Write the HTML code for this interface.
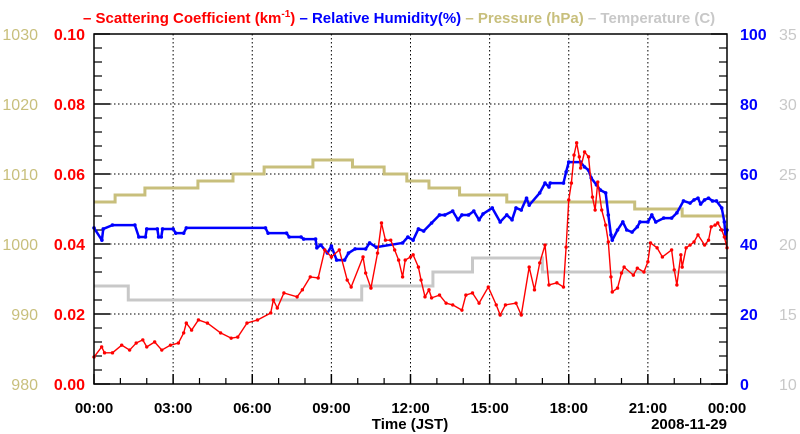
<!DOCTYPE html>
<html><head><meta charset="utf-8"><style>
html,body{margin:0;padding:0;background:#fff;}
svg{display:block;font-family:"Liberation Sans",sans-serif;}
</style></head><body>
<svg id="chart" width="800" height="434" viewBox="0 0 800 434">
<g id="legend">
<text x="83" y="23" font-size="15" font-weight="bold">
<tspan fill="#ff0000">– Scattering Coefficient (km<tspan font-size="10" dy="-6">-1</tspan><tspan dy="6">)</tspan></tspan>
<tspan fill="#0000ff"> – Relative Humidity(%)</tspan>
<tspan fill="#c8bf7c"> – Pressure (hPa)</tspan>
<tspan fill="#c8c8c8"> – Temperature (C)</tspan>
</text>
</g>
<g id="grid"></g>
<g id="axes"></g>
<g id="series"></g>
<rect x="94" y="34" width="633" height="350" fill="none" stroke="#000" stroke-width="1.5"/>
<text x="410" y="429" font-size="15" font-weight="bold" text-anchor="middle">Time (JST)</text>
<text x="727" y="429" font-size="15" font-weight="bold" text-anchor="end">2008-11-29</text>
</svg>
<script>
const scatTime=[0,0.29,0.4,0.7,1.05,1.35,1.6,1.85,2.0,2.3,2.57,2.9,3.2,3.4,3.5,3.7,3.96,4.3,4.8,5.2,5.45,5.8,6.2,6.7,6.8,6.95,7.2,7.7,7.9,8.2,8.5,8.75,9.0,9.3,9.6,9.75,10.2,10.3,10.5,10.75,10.9,11.05,11.25,11.4,11.55,11.7,11.8,12.0,12.1,12.3,12.4,12.55,12.7,12.8,13.1,13.35,13.6,13.95,14.1,14.35,14.6,14.95,15.25,15.4,15.6,16.0,16.2,16.5,16.7,16.9,17.1,17.25,17.55,17.8,17.9,18.0,18.1,18.2,18.3,18.4,18.45,18.6,18.75,18.9,19.0,19.1,19.25,19.4,19.5,19.6,19.65,19.85,20.0,20.1,20.45,20.6,20.85,21.0,21.1,21.35,21.55,21.9,22.0,22.1,22.25,22.3,22.45,22.6,22.75,22.9,23.15,23.3,23.4,23.55,23.65,23.8,23.9,24.0];
const scatValue=[0.0077,0.0106,0.0089,0.0089,0.0111,0.0097,0.0117,0.0126,0.0106,0.0120,0.0097,0.0111,0.0117,0.0146,0.0174,0.0154,0.0183,0.0174,0.0146,0.0131,0.0134,0.0174,0.0183,0.0203,0.0240,0.0217,0.0260,0.0249,0.0269,0.0306,0.0303,0.0383,0.0363,0.0383,0.0297,0.0277,0.0363,0.0317,0.0274,0.0374,0.0460,0.0411,0.0411,0.0383,0.0354,0.0306,0.0354,0.0363,0.0369,0.0334,0.0297,0.0249,0.0269,0.0246,0.0254,0.0231,0.0226,0.0211,0.0254,0.0260,0.0231,0.0277,0.0226,0.0197,0.0226,0.0231,0.0197,0.0334,0.0269,0.0346,0.0397,0.0283,0.0289,0.0277,0.0391,0.0526,0.0574,0.0654,0.0689,0.0649,0.0617,0.0663,0.0649,0.0534,0.0497,0.0577,0.0497,0.0454,0.0406,0.0306,0.0263,0.0274,0.0317,0.0334,0.0311,0.0331,0.0320,0.0349,0.0403,0.0389,0.0363,0.0383,0.0326,0.0283,0.0369,0.0334,0.0389,0.0397,0.0406,0.0426,0.0397,0.0411,0.0449,0.0454,0.0460,0.0440,0.0420,0.0389];
const rhTime=[0,0.3,0.35,0.7,1.55,1.7,1.95,2.0,2.4,2.45,2.55,2.6,3.0,3.1,3.4,3.5,6.5,6.6,7.3,7.4,7.85,7.95,8.4,8.45,8.6,8.85,9.0,9.2,9.5,9.65,9.9,10.3,10.45,10.7,11.7,11.9,12.1,12.3,12.5,12.8,13.1,13.3,13.6,13.8,13.95,14.2,14.4,14.6,14.75,15.1,15.4,15.65,15.85,16.0,16.2,16.4,16.5,16.9,17.1,17.25,17.3,17.8,17.9,18.0,18.45,18.6,18.75,18.85,19.05,19.2,19.4,19.5,19.6,19.65,19.85,20.05,20.2,20.4,20.6,20.7,21.0,21.15,21.3,21.6,21.9,22.1,22.35,22.6,22.75,22.9,23.0,23.15,23.3,23.45,23.6,23.8,23.9,23.95,24.0];
const rhValue=[44.6,41.1,44.3,45.4,45.4,42.0,42.0,44.3,44.3,42.0,42.0,44.3,44.3,43.1,43.1,44.6,44.6,43.1,43.1,42.0,42.0,41.4,41.4,38.9,39.7,37.4,39.4,35.4,35.4,37.4,38.6,38.6,40.3,39.1,40.3,42.0,41.1,44.3,43.7,46.0,48.3,48.3,49.4,46.9,48.3,48.3,49.4,46.9,48.6,50.3,46.3,48.3,46.9,50.3,49.7,53.1,51.1,54.6,57.4,56.3,57.4,57.4,60.6,63.4,63.4,62.0,61.1,58.9,56.9,55.4,54.6,48.3,42.6,41.1,44.0,46.3,44.0,43.4,44.9,46.3,46.3,48.3,46.3,47.4,47.4,48.9,52.3,51.7,52.6,53.1,51.4,52.6,53.1,52.3,52.3,50.3,46.3,41.7,44.0];
const presTime=[0,0.8,1.93,3.94,5.27,6.45,8.3,9.8,11.0,11.86,12.7,13.86,15.65,20.5,22.3];
const presValue=[1006,1007,1008,1009,1010,1011,1012,1011,1010,1009,1008,1007,1006,1005,1004];
const tempTime=[0,1.3,10.15,12.85,14.35,17.0];
const tempValue=[17,16,17,18,19,18];
const xTickLabels=["00:00","03:00","06:00","09:00","12:00","15:00","18:00","21:00","00:00"];
const scatTicks=["0.00","0.02","0.04","0.06","0.08","0.10"];
const rhTicks=["0","20","40","60","80","100"];
const presTicks=["980","990","1000","1010","1020","1030"];
const tempTicks=["10","15","20","25","30","35"];

const L=94,R=727,T=34,B=384,NS="http://www.w3.org/2000/svg";
const xS=h=>L+h*(R-L)/24;
const yScat=v=>B-v/0.1*(B-T);
const yRH=v=>B-v/100*(B-T);
const yPres=v=>B-(v-980)/50*(B-T);
const yTemp=v=>B-(v-10)/25*(B-T);
function mk(tag,attrs,parent){const e=document.createElementNS(NS,tag);for(const k in attrs)e.setAttribute(k,attrs[k]);parent.appendChild(e);return e;}
const grid=document.getElementById('grid'),axes=document.getElementById('axes'),series=document.getElementById('series');
// grid + ticks
for(let i=0;i<=8;i++){const x=xS(i*3);
 if(i>0&&i<8){const g=mk('line',{x1:x,x2:x,y1:T,y2:B,stroke:'#000','stroke-dasharray':'1.5,2.5','stroke-width':1},grid);
 
 }
 mk('line',{x1:x,x2:x,y1:B,y2:B-10,stroke:'#000','stroke-width':1.5},axes);
 const t=mk('text',{x:x,y:413,'font-size':15,'font-weight':'bold','text-anchor':'middle'},axes);t.textContent=xTickLabels[i];
 
 }
for(let h=0;h<24;h++){if(h%3){const x=xS(h);mk('line',{x1:x,x2:x,y1:B,y2:B-6,stroke:'#000','stroke-width':1.2},axes);}}
for(let i=0;i<=5;i++){const y=B-i*(B-T)/5;
 if(i>0&&i<5){const g=mk('line',{x1:L,x2:R,y1:y,y2:y,stroke:'#000','stroke-dasharray':'1.5,2.5','stroke-width':1},grid);
 
 }
 mk('line',{x1:L,x2:L+16,y1:y,y2:y,stroke:'#000','stroke-width':1.5},axes);
 mk('line',{x1:R,x2:R-16,y1:y,y2:y,stroke:'#000','stroke-width':1.5},axes);
 const specs=[[85,'end',scatTicks,'#ff0000','bold','scattering-tick-label'],[38,'end',presTicks,'#c8bf7c','normal','pressure-tick-label'],[740,'start',rhTicks,'#0000ff','bold','humidity-tick-label'],[779,'start',tempTicks,'#c8c8c8','normal','temperature-tick-label']];
 specs.forEach(s=>{const t=mk('text',{x:s[0],y:y+6,'font-size':16,'font-weight':s[4],'text-anchor':s[1],fill:s[3]},axes);t.textContent=s[2][i];
 
 });
 if(i<5)for(let j=1;j<5;j++){const yy=y-j*(B-T)/25;mk('line',{x1:L,x2:L+8,y1:yy,y2:yy,stroke:'#000','stroke-width':1.2},axes);mk('line',{x1:R,x2:R-8,y1:yy,y2:yy,stroke:'#000','stroke-width':1.2},axes);}
}
function steps(times,vals,ys){let d='';for(let i=0;i<times.length;i++){const x0=xS(times[i]),x1=xS(i+1<times.length?times[i+1]:24),y=ys(vals[i]);d+=(i?'L':'M')+x0+','+y+'L'+x1+','+y;}return d;}
const tp=mk('path',{d:steps(tempTime,tempValue,yTemp),fill:'none',stroke:'#c8c8c8','stroke-width':3},series);


const pp=mk('path',{d:steps(presTime,presValue,yPres),fill:'none',stroke:'#c8bf7c','stroke-width':3},series);


function line(times,vals,ys,color,w,r,name){const pts=times.map((t,i)=>xS(t)+','+ys(vals[i])).join(' ');
 const g=mk('g',{},series);
 
 
 mk('polyline',{points:pts,fill:'none',stroke:color,'stroke-width':w,'stroke-linejoin':'round'},g);
 times.forEach((t,i)=>{const c=mk('circle',{cx:xS(t),cy:ys(vals[i]),r:r,fill:color},g);
 
 });}
line(rhTime,rhValue,yRH,'#0000ff',2.5,1.8,'humidity-line');
line(scatTime,scatValue,yScat,'#ff0000',1.4,1.7,'scattering-line');
</script>
</body></html>
